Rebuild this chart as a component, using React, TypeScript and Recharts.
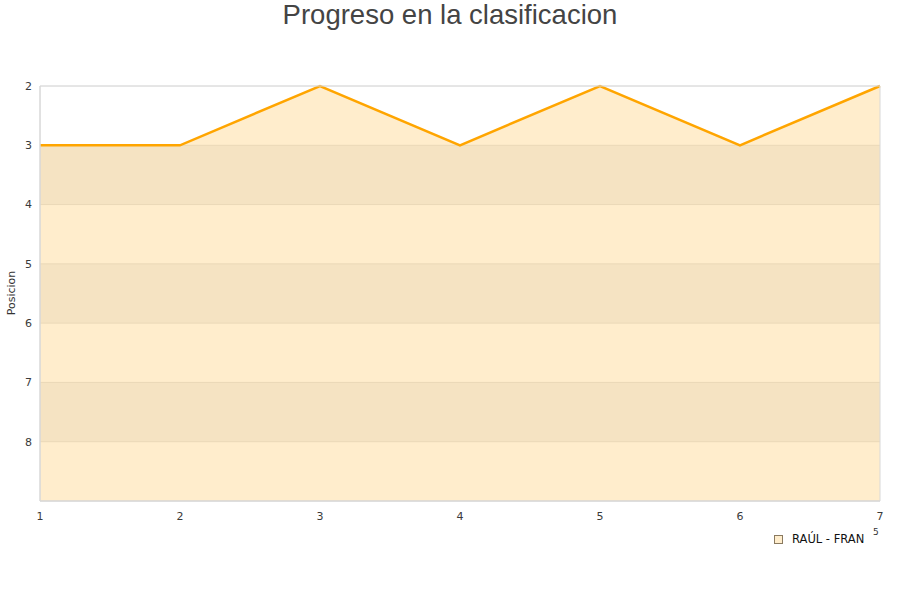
import React from 'react';
import {
  ComposedChart,
  Area,
  XAxis,
  YAxis,
  CartesianGrid,
  ReferenceArea,
  Legend,
} from 'recharts';

const jornadas = [1, 2, 3, 4, 5, 6, 7];
const posiciones = [3, 3, 2, 3, 2, 3, 2];
const yTicks = [2, 3, 4, 5, 6, 7, 8];
const seriesName = 'RAÚL - FRAN';
const title = 'Progreso en la clasificacion';
const yTitle = 'Posicion';

const data = jornadas.map((j, i) => ({ jornada: j, pos: posiciones[i] }));

const tickStyle = { fontFamily: 'DejaVu Sans', fontSize: 11, fill: '#3a3a3a' };

const LegendContent = () => (
  <div style={{ display: 'flex', alignItems: 'center', fontFamily: 'DejaVu Sans', fontSize: 11.5, color: '#111' }}>
    <span
      style={{
        display: 'inline-block',
        width: 7,
        height: 7,
        background: '#ffedcc',
        border: '1px solid #8a7a60',
        marginRight: 9,
      }}
    />
    <span>{seriesName}</span>
  </div>
);

export default function App() {
  return (
    <div style={{ position: 'absolute', left: 0, top: 0, width: 900, height: 600, background: '#fff' }}>
      <div
        style={{
          position: 'absolute',
          left: 0,
          top: -1,
          width: 900,
          textAlign: 'center',
          fontFamily: 'Liberation Sans',
          fontSize: 27.5,
          color: '#444',
          lineHeight: '32px',
        }}
      >
        {title}
      </div>
      <div
        style={{
          position: 'absolute',
          left: 11,
          top: 293,
          transform: 'translate(-50%, -50%) rotate(-90deg)',
          fontFamily: 'DejaVu Sans',
          fontSize: 11,
          color: '#333',
          whiteSpace: 'nowrap',
        }}
      >
        {yTitle}
      </div>
      <div
        style={{
          position: 'absolute',
          left: 873,
          top: 527,
          fontFamily: 'DejaVu Sans',
          fontSize: 9,
          color: '#333',
        }}
      >
        5
      </div>
      <ComposedChart
        width={900}
        height={600}
        data={data}
        margin={{ top: 86, right: 20, bottom: 55, left: 0 }}
        style={{ position: 'absolute', left: 0, top: 0 }}
      >
        <CartesianGrid
          vertical={false}
          stroke="#e6e6e6"
          horizontalFill={['none', '#f3f3f3']}
        />
        <XAxis
          dataKey="jornada"
          type="number"
          domain={[1, 7]}
          ticks={jornadas}
          tickLine={false}
          axisLine={{ stroke: '#d8d8d8' }}
          tick={tickStyle}
          tickMargin={5}
          height={30}
          interval={0}
        />
        <YAxis
          type="number"
          reversed
          domain={[2, 9]}
          ticks={yTicks}
          tickLine={false}
          axisLine={{ stroke: '#d8d8d8' }}
          tick={tickStyle}
          width={40}
          interval={0}
        />
        <Area
          type="linear"
          dataKey="pos"
          name={seriesName}
          baseValue={9}
          stroke="#ffa500"
          strokeWidth={2.5}
          fill="#ffa500"
          fillOpacity={0.2}
          dot={false}
          activeDot={false}
          isAnimationActive={false}
        />
        <ReferenceArea x1={1} x2={7} y1={2} y2={9} fill="none" stroke="#d8d8d8" ifOverflow="visible" />
        <Legend
          content={<LegendContent />}
          wrapperStyle={{ position: 'absolute', left: 774, top: 532, width: 120 }}
        />
      </ComposedChart>
    </div>
  );
}
